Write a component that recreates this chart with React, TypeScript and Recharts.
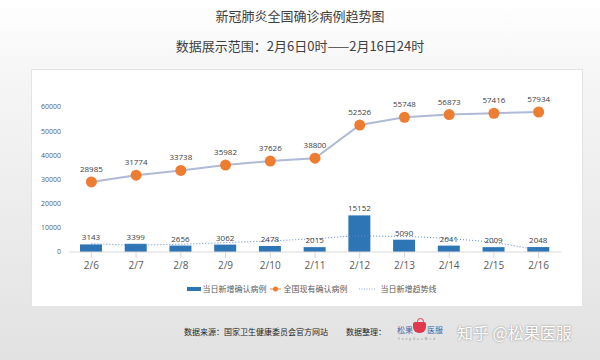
import { Bar, ComposedChart, LabelList, Legend, Line, XAxis, YAxis } from "recharts";

const dates = ["2/6", "2/7", "2/8", "2/9", "2/10", "2/11", "2/12", "2/13", "2/14", "2/15", "2/16"];
const newCases = [3143, 3399, 2656, 3062, 2478, 2015, 15152, 5090, 2641, 2009, 2048];
const totalCases = [28985, 31774, 33738, 35982, 37626, 38800, 52526, 55748, 56873, 57416, 57934];
// dotted trend line
const trend = [3450, 2900, 3200, 3900, 4600, 5500, 6600, 6400, 5500, 3900, 700];
const yTicks = [0, 10000, 20000, 30000, 40000, 50000, 60000];

const data = dates.map((d, i) => ({
  date: d,
  newCases: newCases[i],
  total: totalCases[i],
  trend: trend[i],
}));

const cjk = '"Noto Sans CJK SC", "Noto Sans", sans-serif';
const num = '"Open Sans", "Noto Sans", sans-serif';

const LegendContent = () => (
  <div
    style={{
      display: "flex",
      justifyContent: "center",
      alignItems: "center",
      fontFamily: cjk,
      fontSize: 8,
      color: "#595959",
      paddingTop: 6,
      paddingLeft: 30,
    }}
  >
    <span style={{ display: "inline-block", width: 14, height: 4, background: "#2e75b6", marginRight: 2 }} />
    <span>当日新增确认病例</span>
    <svg width={11} height={8} style={{ margin: "0 3px" }}>
      <line x1={0} y1={4} x2={11} y2={4} stroke="#ed7d31" strokeWidth={1} />
      <circle cx={5.5} cy={4} r={2.5} fill="#ed7d31" />
    </svg>
    <span>全国现有确认病例</span>
    <svg width={17} height={8} style={{ margin: "0 5px 0 11px" }}>
      <line x1={0} y1={4} x2={17} y2={4} stroke="#8eaad8" strokeWidth={1} strokeDasharray="1 1.5" />
    </svg>
    <span>当日新增趋势线</span>
  </div>
);

const App = () => {
  return (
    <div
      style={{
        position: "absolute",
        left: 0,
        top: 0,
        width: 600,
        height: 360,
        background: "linear-gradient(#ffffff 0px, #f6f6f6 70px, #e6e6e6 300px, #e2e2e2 360px)",
        overflow: "hidden",
      }}
    >
      <div
        style={{
          position: "absolute",
          top: 6,
          width: 600,
          textAlign: "center",
          fontFamily: cjk,
          fontSize: 13,
          color: "#404040",
        }}
      >
        新冠肺炎全国确诊病例趋势图
      </div>
      <div
        style={{
          position: "absolute",
          top: 36,
          width: 600,
          textAlign: "center",
          fontFamily: cjk,
          fontSize: 13,
          color: "#404040",
        }}
      >
        数据展示范围：2月6日0时——2月16日24时
      </div>
      <div
        style={{
          position: "absolute",
          left: 31,
          top: 69,
          width: 552,
          height: 238,
          background: "#ffffff",
          border: "1px solid #e4e4e4",
          boxSizing: "border-box",
        }}
      >
        <ComposedChart
          width={552}
          height={238}
          data={data}
          margin={{ top: 37, right: 23, left: 0, bottom: 0 }}
        >
          <XAxis
            dataKey="date"
            height={25}
            stroke="#d9d9d9"
            tickLine={{ stroke: "#d9d9d9" }}
            tick={{ fill: "#595959", fontSize: 10, fontFamily: num }}
            tickMargin={4}
          />
          <YAxis
            width={37}
            domain={[0, 60000]}
            ticks={yTicks}
            axisLine={false}
            tickLine={false}
            tick={{ fill: "#595959", fontSize: 7, fontFamily: num }}
          />
          <Legend verticalAlign="bottom" height={31} content={<LegendContent />} />
          <Bar dataKey="newCases" fill="#2e75b6" barSize={22} isAnimationActive={false}>
            <LabelList
              dataKey="newCases"
              position="top"
              offset={4}
              style={{ fill: "#404040", fontSize: 8, fontFamily: num }}
            />
          </Bar>
          <Line
            dataKey="trend"
            type="monotone"
            stroke="#5b8bc9"
            strokeWidth={1}
            strokeDasharray="1 2"
            dot={false}
            isAnimationActive={false}
          />
          <Line
            dataKey="total"
            type="linear"
            stroke="#aebad6"
            strokeWidth={2}
            dot={{ r: 5.5, fill: "#ed7d31", stroke: "#ed7d31", strokeWidth: 0 }}
            isAnimationActive={false}
          >
            <LabelList
              dataKey="total"
              position="top"
              offset={10}
              style={{ fill: "#404040", fontSize: 8, fontFamily: num }}
            />
          </Line>
        </ComposedChart>
      </div>
      <div
        style={{
          position: "absolute",
          left: 184,
          top: 326,
          fontFamily: cjk,
          fontSize: 8,
          color: "#262626",
        }}
      >
        数据来源：国家卫生健康委员会官方网站
      </div>
      <div
        style={{
          position: "absolute",
          left: 346,
          top: 326,
          fontFamily: cjk,
          fontSize: 8,
          color: "#262626",
        }}
      >
        数据整理：
      </div>
      <div style={{ position: "absolute", left: 395, top: 318, width: 52, height: 30 }}>
        <div
          style={{
            position: "absolute",
            left: 18,
            top: 4,
            width: 13,
            height: 11,
            borderRadius: "2px 2px 6px 6px",
            background: "#e0394f",
          }}
        />
        <div
          style={{
            position: "absolute",
            left: 22,
            top: 0,
            width: 5,
            height: 5,
            borderRadius: "50%",
            border: "1px solid #e0394f",
          }}
        />
        <div
          style={{
            position: "absolute",
            left: 2,
            top: 6,
            fontFamily: cjk,
            fontSize: 8,
            color: "#3c64a8",
          }}
        >
          松果
        </div>
        <div
          style={{
            position: "absolute",
            left: 32,
            top: 6,
            fontFamily: cjk,
            fontSize: 8,
            color: "#3c64a8",
          }}
        >
          医服
        </div>
        <div
          style={{
            position: "absolute",
            left: 3,
            top: 19,
            fontFamily: num,
            fontSize: 3,
            color: "#888",
            letterSpacing: 2,
          }}
        >
          SongGuoMed
        </div>
      </div>
      <div
        style={{
          position: "absolute",
          left: 457,
          top: 320,
          fontFamily: cjk,
          fontSize: 16,
          color: "#ffffff",
          textShadow: "0 0 2px rgba(0,0,0,0.45)",
        }}
      >
        知乎 @松果医服
      </div>
    </div>
  );
};

export default App;
